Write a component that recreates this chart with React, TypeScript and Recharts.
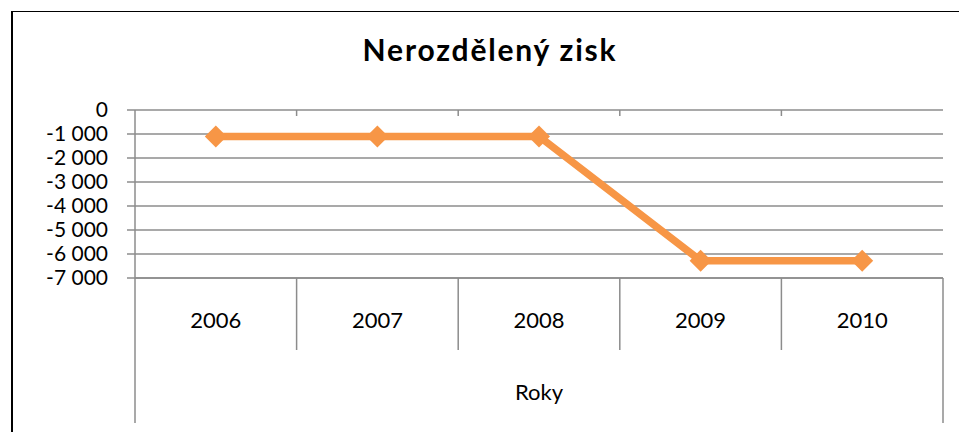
import React from 'react';
import { LineChart, Line, XAxis, YAxis, CartesianGrid } from 'recharts';

// data
const years = ['2006', '2007', '2008', '2009', '2010'];
const profit = [-1100, -1100, -1100, -6280, -6280];
const valueTicks = [0, -1000, -2000, -3000, -4000, -5000, -6000, -7000];
const chartTitle = 'Nerozdělený zisk';
const axisTitle = 'Roky';

const data = years.map((year, i) => ({ year, profit: profit[i] }));

const W = 959;
const H = 432;
const PLOT_LEFT = 135;
const PLOT_RIGHT = 943;
const PLOT_TOP = 110;
const PLOT_BOTTOM = 278;
const HALF_BAND = (PLOT_RIGHT - PLOT_LEFT) / years.length / 2;
const GRID = '#8c8c8c';
const ORANGE = '#F79646';

const fmt = (v: number) => {
  const s = Math.abs(v).toString().replace(/\B(?=(\d{3})+(?!\d))/g, ' ');
  return v < 0 ? '-' + s : s;
};

const YearTick = (props: any) => {
  const { x, payload, index } = props;
  const last = index === years.length - 1;
  const left = x - HALF_BAND;
  return (
    <g>
      <text x={x} y={PLOT_BOTTOM + 50} textAnchor="middle" fill="#000" fontSize={22}>
        {payload.value}
      </text>
      <line x1={left} x2={left} y1={PLOT_BOTTOM} y2={index === 0 ? 423 : 350} stroke={GRID} strokeWidth={1.5} />
      {index > 0 && (
        <line x1={left} x2={left} y1={PLOT_TOP} y2={PLOT_TOP + 6} stroke={GRID} strokeWidth={1.5} />
      )}
      {last && (
        <line x1={x + HALF_BAND} x2={x + HALF_BAND} y1={PLOT_BOTTOM} y2={423} stroke={GRID} strokeWidth={1.5} />
      )}
    </g>
  );
};

const AxisTitle = (props: any) => {
  const vb = props.viewBox || {};
  const cx = vb.width ? vb.x + vb.width / 2 : (PLOT_LEFT + PLOT_RIGHT) / 2;
  return (
    <text x={cx} y={400} textAnchor="middle" fill="#000" fontSize={22}>
      {axisTitle}
    </text>
  );
};

const Diamond = (props: any) => {
  const { cx, cy } = props;
  if (cx == null || cy == null) return null;
  const r = 11;
  return (
    <polygon
      points={`${cx},${cy - r} ${cx + r},${cy} ${cx},${cy + r} ${cx - r},${cy}`}
      fill={ORANGE}
    />
  );
};

export default function App() {
  return (
    <div
      style={{
        position: 'absolute',
        left: 0,
        top: 0,
        width: W,
        height: H,
        background: '#fff',
        fontFamily: 'Lato, "Open Sans", sans-serif',
        overflow: 'hidden',
      }}
    >
      {/* chart frame, only left and top edges are in view */}
      <div
        style={{
          position: 'absolute',
          left: 11,
          top: 11,
          width: W,
          height: H,
          borderLeft: '2px solid #000',
          borderTop: '1px solid #000',
        }}
      />
      <div
        style={{
          position: 'absolute',
          left: 0,
          width: 980,
          top: 31,
          textAlign: 'center',
          fontSize: 30,
          letterSpacing: 1.8,
          fontWeight: 'bold',
          color: '#000',
        }}
      >
        {chartTitle}
      </div>
      <LineChart
        width={W}
        height={H}
        data={data}
        margin={{ top: PLOT_TOP, right: W - PLOT_RIGHT, left: 0, bottom: 0 }}
        style={{ position: 'absolute', left: 0, top: 0 }}
      >
        <CartesianGrid vertical={false} stroke={GRID} strokeWidth={1.5} />
        <XAxis
          dataKey="year"
          height={H - PLOT_BOTTOM}
          interval={0}
          padding={{ left: HALF_BAND, right: HALF_BAND }}
          axisLine={{ stroke: GRID, strokeWidth: 1.5 }}
          tickLine={false}
          tick={<YearTick />}
          label={<AxisTitle />}
        />
        <YAxis
          width={PLOT_LEFT}
          domain={[-7000, 0]}
          ticks={valueTicks}
          interval={0}
          tickFormatter={fmt}
          tickSize={8}
          tickMargin={19}
          axisLine={{ stroke: GRID, strokeWidth: 1.5 }}
          tickLine={{ stroke: GRID, strokeWidth: 1.5 }}
          tick={{ fill: '#000', fontSize: 21 }}
        />
        <Line
          type="linear"
          dataKey="profit"
          stroke={ORANGE}
          strokeWidth={7.5}
          strokeLinejoin="round"
          dot={<Diamond />}
          activeDot={false}
          isAnimationActive={false}
        />
      </LineChart>
    </div>
  );
}
